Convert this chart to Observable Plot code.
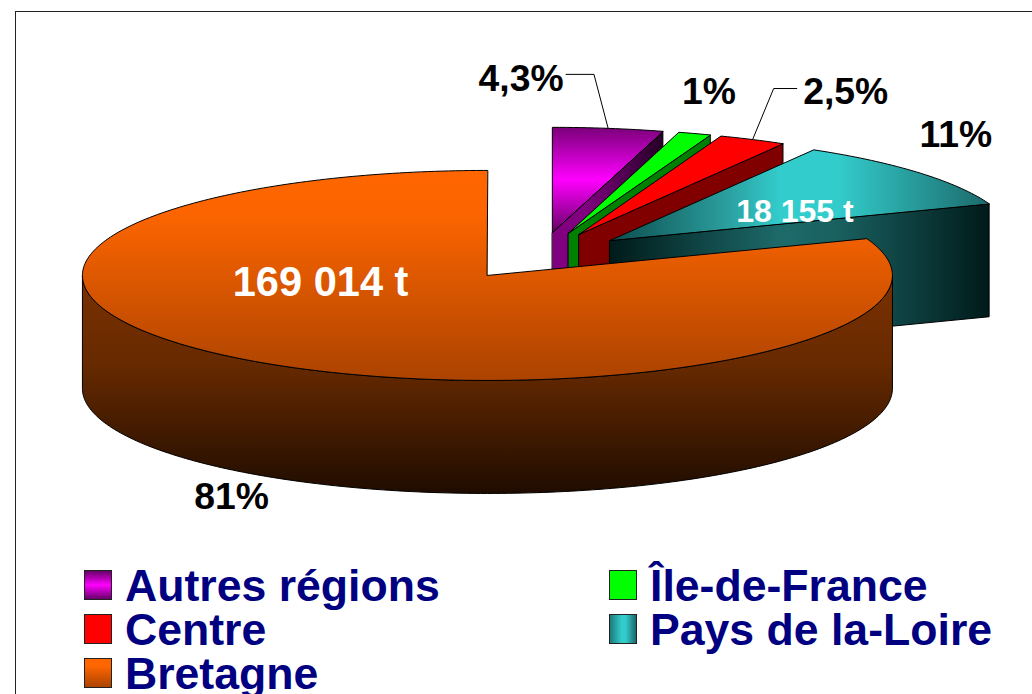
<!DOCTYPE html>
<html lang="fr">
<head>
<meta charset="utf-8">
<script src="https://cdn.jsdelivr.net/npm/d3@7"></script>
<script src="https://cdn.jsdelivr.net/npm/@observablehq/plot@0.6"></script>
<style>
html,body{margin:0;padding:0;width:1032px;height:694px;overflow:hidden;background:#fff}
#frame{position:absolute;left:15px;top:11px;width:1100px;height:800px;border:1px solid #222;box-sizing:border-box}
#chart{position:absolute;left:0;top:0}
#chart svg{display:block;background:transparent}
#legend{position:absolute;left:84px;top:564px;display:grid;grid-template-columns:525px auto;grid-auto-rows:44px;
  font:bold 44.6px/44px "Liberation Sans",Arial,sans-serif;color:#000080;white-space:nowrap}
.item{display:flex;align-items:center;height:44px}
.sw{display:inline-block;width:28px;height:30px;box-sizing:border-box;border:1px solid #222;margin-right:13px;margin-top:-2px}
</style>
</head>
<body>
<div id="frame"></div>
<div id="chart"></div>
<div id="legend"></div>
<script>
// Clockwise from twelve o'clock
const regions = ["Autres régions", "Île-de-France", "Centre", "Pays de la-Loire", "Bretagne"];
const angleShares = [4.4, 1.3, 2.7, 10.9, 80.7];   // share of the circle as drawn
const percentLabels = ["4,3%", "1%", "2,5%", "11%", "81%"];
const tonnageLabels = ["", "", "", "18 155 t", "169 014 t"];
const legendOrder = ["Autres régions", "Île-de-France", "Centre", "Pays de la-Loire", "Bretagne"];

// Pie geometry, in pie units (one unit = the radius on each axis)
const W = 1032, H = 560;
const pxX = 405, pxY = 105, originX = 539.2, originY = 255.4;
const explode = 0.2265, depth = 113 / pxY;

const topFill = ["url(#gA)", "#00ff00", "#ff0000", "url(#gT)", "url(#gB)"];
const sideFill = ["url(#sA)", "#008000", "#800000", "url(#sT)", "url(#sB)"];

const rad = d => d * Math.PI / 180;
let acc = 0;
const slices = regions.map((name, i) => {
  const a0 = acc * 3.6; acc += angleShares[i]; const a1 = acc * 3.6;
  const mid = (a0 + a1) / 2;
  const cx = explode * Math.sin(rad(mid)), cy = explode * Math.cos(rad(mid));
  const on = (a, dz = 0) => ({x: cx + Math.sin(rad(a)), y: cy + Math.cos(rad(a)) - dz});
  return {name, i, a0, a1, mid, cx, cy, on};
});

const closed = {x: "x", y: "y", curve: "linear-closed", stroke: "#000", strokeWidth: 1, strokeLinejoin: "round"};
const arc = (s, from, to, dz = 0) => d3.range(from, to, 1).concat(to).map(a => s.on(a, dz));

const faces = slices.flatMap(s => {
  const apex = {x: s.cx, y: s.cy}, apexLow = {x: s.cx, y: s.cy - depth};
  const out = [];
  // visible wall of the slice's clockwise cut
  if (s.a1 < 180) out.push(Plot.line([apex, s.on(s.a1), s.on(s.a1, depth), apexLow], {...closed, fill: sideFill[s.i]}));
  // visible outer wall of the rim
  const wa = Math.max(s.a0, 90), wb = Math.min(s.a1, 270);
  if (wb > wa) out.push(Plot.line([...arc(s, wa, wb), ...arc(s, wa, wb, depth).reverse()], {...closed, fill: sideFill[s.i]}));
  out.push(Plot.line([apex, ...arc(s, s.a0, s.a1)], {...closed, fill: topFill[s.i]}));
  return out;
});

// Label placement relative to the slice, in pie units
const labelShift = [[-0.215, -0.352], [0.035, -0.286], [0.23, -0.343], [0.09, -0.248], [-0.062, 0.324]];
const tonnageShift = {3: [0.457, 0.181], 4: [-0.412, -0.2]};
const leaders = {0: [[-0.035, -0.514], [-0.104, -0.514]], 2: [[0.052, -0.486], [0.109, -0.486]]};

const pct = slices.map(s => {
  const r = s.i === 4 ? s.on(s.mid, depth) : s.on(s.mid);
  return {text: percentLabels[s.i], x: r.x + labelShift[s.i][0], y: r.y - labelShift[s.i][1]};
});
const tons = slices.filter(s => tonnageLabels[s.i]).map(s => ({
  text: tonnageLabels[s.i], big: s.i === 4,
  x: s.cx + tonnageShift[s.i][0], y: s.cy + tonnageShift[s.i][1]
}));
const leaderMarks = Object.entries(leaders).map(([i, pts]) => {
  const r = slices[+i].on(slices[+i].mid);
  return Plot.line([r, ...pts.map(([dx, dy]) => ({x: r.x + dx, y: r.y - dy}))], {x: "x", y: "y", stroke: "#000", strokeWidth: 1});
});

function gradient(defs, id, horizontal, stops) {
  const g = defs.append("linearGradient").attr("id", id)
    .attr("x1", 0).attr("y1", 0).attr("x2", horizontal ? 1 : 0).attr("y2", horizontal ? 0 : 1);
  stops.forEach(([o, c]) => g.append("stop").attr("offset", o).attr("stop-color", c));
}
const defsMark = () => {
  const defs = d3.create("svg:defs");
  gradient(defs, "gB", false, [[0, "#ff6600"], [0.22, "#fb6400"], [1, "#ab4300"]]);
  gradient(defs, "sB", false, [[0, "#7a3100"], [0.4, "#682a00"], [1, "#1f0c00"]]);
  gradient(defs, "gT", true, [[0, "#0c4c4c"], [0.3, "#2a9c9c"], [0.45, "#33cccc"], [0.6, "#33cccc"], [1, "#1c6a6a"]]);
  gradient(defs, "sT", true, [[0, "#001a1a"], [0.45, "#1e6a6a"], [0.6, "#1a6060"], [1, "#001a1a"]]);
  gradient(defs, "gA", false, [[0, "#7a007a"], [0.5, "#ff00ff"], [1, "#660066"]]);
  gradient(defs, "sA", true, [[0, "#800080"], [0.3, "#800080"], [1, "#240024"]]);
  return defs.node();
};

const textBase = {x: "x", y: "y", text: "text", textAnchor: "middle", lineAnchor: "bottom",
  fontFamily: "Liberation Sans, Arial, sans-serif", fontWeight: "bold"};

const plot = Plot.plot({
  width: W, height: H, margin: 0,
  x: {domain: [-originX / pxX, (W - originX) / pxX], range: [0, W], axis: null},
  y: {domain: [originY / pxY, (originY - H) / pxY], range: [0, H], axis: null},
  style: {background: "transparent", overflow: "visible"},
  marks: [
    defsMark,
    ...faces,
    ...leaderMarks,
    Plot.text(pct, {...textBase, fill: "#000", fontSize: 37.3}),
    Plot.text(tons.filter(d => d.big), {...textBase, fill: "#fff", fontSize: 41.6}),
    Plot.text(tons.filter(d => !d.big), {...textBase, fill: "#fff", fontSize: 32})
  ]
});
document.getElementById("chart").append(plot);

const swatchCss = {
  "Autres régions": "linear-gradient(#660066,#ff00ff 50%,#660066)",
  "Île-de-France": "#00ff00",
  "Centre": "#ff0000",
  "Pays de la-Loire": "linear-gradient(90deg,#1c7a7a,#33cccc 45%,#33cccc 60%,#1c6a6a)",
  "Bretagne": "linear-gradient(#ff6600,#ff6600 25%,#ab4300)"
};
const legend = document.getElementById("legend");
legendOrder.forEach(name => {
  const item = document.createElement("div"); item.className = "item";
  const sw = document.createElement("span"); sw.className = "sw"; sw.style.background = swatchCss[name];
  const label = document.createElement("span"); label.textContent = name;
  item.append(sw, label); legend.append(item);
});
</script>
</body>
</html>
